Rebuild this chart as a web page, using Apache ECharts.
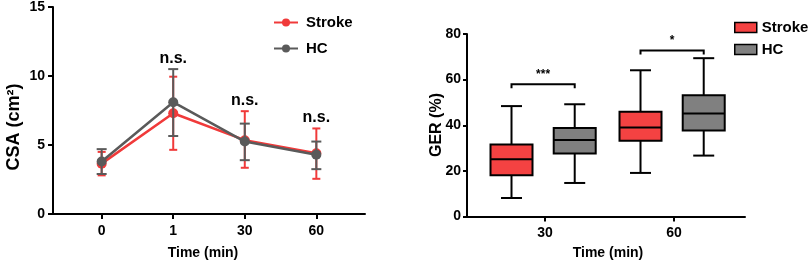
<!DOCTYPE html>
<html>
<head>
<meta charset="utf-8">
<script src="https://cdn.jsdelivr.net/npm/echarts@6/dist/echarts.min.js"></script>
<style>
  html, body { margin: 0; padding: 0; background: #fff; }
  #chart { width: 809px; height: 263px; }
</style>
</head>
<body>
<div id="chart"></div>
<script>
  // CSA panel (mean with error bars)
  const timeLabels = ['0', '1', '30', '60']
  const csaStroke = [3.65, 7.3, 5.35, 4.4]
  const csaStrokeLow = [2.8, 4.65, 3.35, 2.55]
  const csaStrokeHigh = [4.5, 9.95, 7.45, 6.2]
  const csaHC = [3.8, 8.1, 5.25, 4.3]
  const csaHCLow = [2.9, 5.65, 3.9, 3.25]
  const csaHCHigh = [4.7, 10.5, 6.55, 5.25]
  const csaSig = ['', 'n.s.', 'n.s.', 'n.s.']

  // GER panel (box plots: min, q1, median, q3, max)
  const gerTimes = ['30', '60']
  const gerStroke = [
    [8.1, 18.1, 25.1, 31.6, 48.4],
    [19.1, 33.2, 39.0, 45.9, 64.1]
  ]
  const gerHC = [
    [14.7, 27.6, 33.5, 38.8, 49.2],
    [26.7, 37.7, 45.1, 53.1, 69.4]
  ]
  const gerBracketY = [58, 72.8]
  const gerSig = ['***', '*']

  const RED = '#f03a3a'
  const RED_FILL = '#f44242'
  const GREY = '#5a5a5a'
  const GREY_FILL = '#808080'
  const FONT = '"Liberation Sans", Arial, sans-serif'

  const chart = echarts.init(document.getElementById('chart'))

  const labelStyle = { color: '#000', fontFamily: FONT, fontWeight: 'bold', fontSize: 14 }

  function errorSeries(name, low, high, color, capHalf, z) {
    return {
      type: 'custom',
      name,
      xAxisIndex: 0,
      yAxisIndex: 0,
      silent: true,
      z,
      data: low.map((l, i) => [i, l, high[i]]),
      encode: { x: 0, y: [1, 2] },
      renderItem(params, api) {
        const x = api.value(0)
        const lo = api.coord([x, api.value(1)])
        const hi = api.coord([x, api.value(2)])
        const st = { stroke: color, lineWidth: 2 }
        return {
          type: 'group',
          children: [
            { type: 'line', shape: { x1: lo[0], y1: lo[1], x2: hi[0], y2: hi[1] }, style: st },
            { type: 'line', shape: { x1: lo[0] - capHalf, y1: lo[1], x2: lo[0] + capHalf, y2: lo[1] }, style: st },
            { type: 'line', shape: { x1: hi[0] - capHalf, y1: hi[1], x2: hi[0] + capHalf, y2: hi[1] }, style: st }
          ]
        }
      }
    }
  }

  function lineSeries(name, data, color, z) {
    return {
      name,
      type: 'line',
      xAxisIndex: 0,
      yAxisIndex: 0,
      z,
      data: data.map((v, i) => [i, v]),
      symbol: 'circle',
      symbolSize: 10,
      itemStyle: { color },
      lineStyle: { color, width: 2.5 },
      animation: false
    }
  }

  function boxSeries(name, boxes, offset, fill) {
    return {
      type: 'custom',
      name,
      xAxisIndex: 1,
      yAxisIndex: 1,
      z: 3,
      data: boxes.map((b, i) => [i + offset].concat(b)),
      encode: { x: 0, y: [1, 5] },
      renderItem(params, api) {
        const x = api.value(0)
        const p = [1, 2, 3, 4, 5].map(k => api.coord([x, api.value(k)]))
        const half = 21
        const cap = 10.5
        const st = { stroke: '#000', lineWidth: 2 }
        const cx = p[0][0]
        return {
          type: 'group',
          children: [
            { type: 'line', shape: { x1: cx, y1: p[0][1], x2: cx, y2: p[4][1] }, style: st },
            { type: 'line', shape: { x1: cx - cap, y1: p[0][1], x2: cx + cap, y2: p[0][1] }, style: st },
            { type: 'line', shape: { x1: cx - cap, y1: p[4][1], x2: cx + cap, y2: p[4][1] }, style: st },
            {
              type: 'rect',
              shape: { x: cx - half, y: p[3][1], width: half * 2, height: p[1][1] - p[3][1] },
              style: { fill, stroke: '#000', lineWidth: 2 }
            },
            { type: 'line', shape: { x1: cx - half, y1: p[2][1], x2: cx + half, y2: p[2][1] }, style: st }
          ]
        }
      }
    }
  }

  const STROKE_OFF = -0.26
  const HC_OFF = 0.23

  chart.setOption({
    animation: false,
    textStyle: { fontFamily: FONT },
    grid: [
      { left: 53, top: 7, width: 312, height: 207 },
      { left: 467, top: 34, width: 278, height: 182.5 }
    ],
    legend: [
      {
        left: 268,
        top: 10,
        orient: 'vertical',
        itemWidth: 24,
        itemHeight: 10,
        itemGap: 11,
        selectedMode: false,
        textStyle: { color: '#000', fontFamily: FONT, fontWeight: 'bold', fontSize: 15, padding: [0, 0, 0, 3] },
        data: ['Stroke', 'HC']
      },
      {
        left: 729,
        top: 15,
        orient: 'vertical',
        itemWidth: 22,
        itemHeight: 10,
        itemGap: 7,
        selectedMode: false,
        textStyle: { color: '#000', fontFamily: FONT, fontWeight: 'bold', fontSize: 15, padding: [0, 0, 0, 0] },
        data: [
          { name: 'Stroke', icon: 'rect', itemStyle: { color: RED_FILL, borderColor: '#000', borderWidth: 1.5 } },
          { name: 'HC', icon: 'rect', itemStyle: { color: GREY_FILL, borderColor: '#000', borderWidth: 1.5 } }
        ]
      }
    ],
    xAxis: [
      {
        gridIndex: 0,
        type: 'value',
        min: -0.68,
        max: 3.68,
        splitLine: { show: false },
        axisLine: { onZero: false, lineStyle: { color: '#000', width: 2 } },
        axisTick: { customValues: [0, 1, 2, 3], length: 5, lineStyle: { color: '#000', width: 2 } },
        axisLabel: {
          customValues: [0, 1, 2, 3],
          margin: 10,
          formatter: v => timeLabels[Math.round(v)],
          ...labelStyle
        }
      },
      {
        gridIndex: 1,
        type: 'value',
        min: -0.605,
        max: 1.55,
        splitLine: { show: false },
        axisLine: { onZero: false, lineStyle: { color: '#000', width: 2 } },
        axisTick: { customValues: [0, 1], length: 5, lineStyle: { color: '#000', width: 2 } },
        axisLabel: {
          customValues: [0, 1],
          margin: 10,
          formatter: v => gerTimes[Math.round(v)],
          ...labelStyle
        }
      }
    ],
    yAxis: [
      {
        gridIndex: 0,
        type: 'value',
        min: 0,
        max: 15,
        interval: 5,
        splitLine: { show: false },
        axisLine: { show: true, onZero: false, lineStyle: { color: '#000', width: 2 } },
        axisTick: { show: true, length: 5, lineStyle: { color: '#000', width: 2 } },
        axisLabel: { margin: 8, ...labelStyle }
      },
      {
        gridIndex: 1,
        type: 'value',
        min: 0,
        max: 80,
        interval: 20,
        splitLine: { show: false },
        axisLine: { show: true, onZero: false, lineStyle: { color: '#000', width: 2 } },
        axisTick: { show: true, length: 4, lineStyle: { color: '#000', width: 2 } },
        axisLabel: { margin: 6, ...labelStyle }
      }
    ],
    graphic: [
      {
        type: 'text', x: 14, y: 127, rotation: Math.PI / 2,
        style: { text: 'CSA (cm²)', fill: '#000', font: 'bold 18px ' + FONT, align: 'center', verticalAlign: 'middle' }
      },
      {
        type: 'text', x: 437, y: 125, rotation: Math.PI / 2,
        style: { text: 'GER (%)', fill: '#000', font: 'bold 16px ' + FONT, align: 'center', verticalAlign: 'middle' }
      },
      {
        type: 'text', x: 203, y: 253,
        style: { text: 'Time (min)', fill: '#000', font: 'bold 14px ' + FONT, align: 'center', verticalAlign: 'middle' }
      },
      {
        type: 'text', x: 608, y: 253,
        style: { text: 'Time (min)', fill: '#000', font: 'bold 14px ' + FONT, align: 'center', verticalAlign: 'middle' }
      }
    ],
    series: [
      errorSeries('Stroke SD', csaStrokeLow, csaStrokeHigh, RED, 4, 2),
      lineSeries('Stroke', csaStroke, RED, 3),
      errorSeries('HC SD', csaHCLow, csaHCHigh, GREY, 5, 4),
      lineSeries('HC', csaHC, GREY, 5),
      {
        // n.s. labels above the highest error bar
        type: 'custom',
        name: 'csaSig',
        xAxisIndex: 0,
        yAxisIndex: 0,
        silent: true,
        data: csaSig.map((s, i) => [i, Math.max(csaStrokeHigh[i], csaHCHigh[i])]),
        renderItem(params, api) {
          const s = csaSig[params.dataIndex]
          if (!s) return null
          const pt = api.coord([api.value(0), api.value(1)])
          return {
            type: 'text',
            x: pt[0],
            y: pt[1] - 3,
            style: { text: s, fill: '#000', font: 'bold 16px ' + FONT, align: 'center', verticalAlign: 'bottom' }
          }
        }
      },
      boxSeries('Stroke', gerStroke, STROKE_OFF, RED_FILL),
      boxSeries('HC', gerHC, HC_OFF, GREY_FILL),
      {
        // significance brackets
        type: 'custom',
        name: 'gerSig',
        xAxisIndex: 1,
        yAxisIndex: 1,
        silent: true,
        data: gerBracketY.map((y, i) => [i + STROKE_OFF, i + HC_OFF, y]),
        encode: { x: [0, 1], y: 2 },
        renderItem(params, api) {
          const a = api.coord([api.value(0), api.value(2)])
          const b = api.coord([api.value(1), api.value(2)])
          const st = { stroke: '#000', lineWidth: 2 }
          return {
            type: 'group',
            children: [
              { type: 'polyline', shape: { points: [[a[0], a[1] + 4], [a[0], a[1]], [b[0], b[1]], [b[0], b[1] + 4]] }, style: { ...st, fill: null } },
              {
                type: 'text',
                x: (a[0] + b[0]) / 2,
                y: a[1] - 4,
                style: { text: gerSig[params.dataIndex], fill: '#000', font: 'bold 12px ' + FONT, align: 'center', verticalAlign: 'bottom' }
              }
            ]
          }
        }
      }
    ]
  })
</script>
</body>
</html>
